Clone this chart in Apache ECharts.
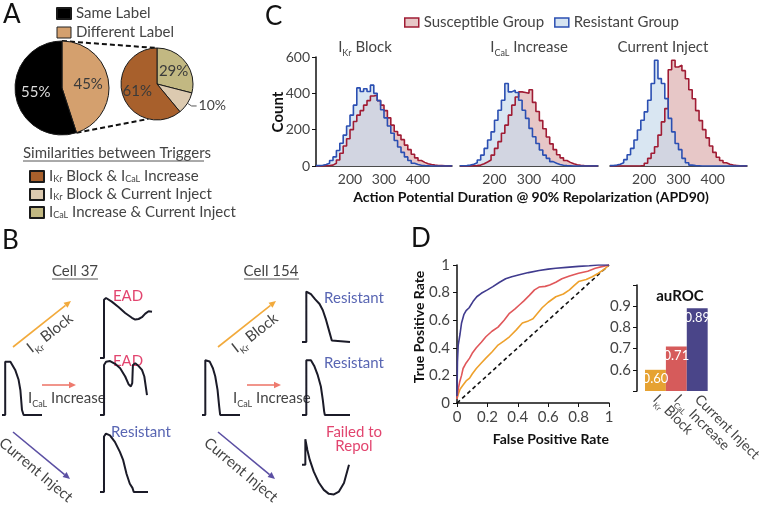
<!DOCTYPE html>
<html>
<head>
<meta charset="utf-8">
<script src="https://cdn.jsdelivr.net/npm/echarts@6/dist/echarts.min.js"></script>
<style>
  html, body {margin: 0; padding: 0; background: #fff;}
  #chart {width: 762px; height: 507px;}
</style>
</head>
<body>
<div id="chart"></div>
<script>
const FONT = 'Lato'
const TXT = '#444'

// A: label agreement pies
const labelNames = ['Different Label', 'Same Label']
const labelShare = [45, 55]
const simNames = ['ICaL Increase & Current Inject', 'IKr Block & Current Inject', 'IKr Block & ICaL Increase']
const simShare = [29, 10, 61]

// C: APD90 histograms (bin starts, width 10 ms)
const apdBins = [100, 110, 120, 130, 140, 150, 160, 170, 180, 190,
  200, 210, 220, 230, 240, 250, 260, 270, 280, 290,
  300, 310, 320, 330, 340, 350, 360, 370, 380, 390,
  400, 410, 420, 430, 440, 450, 460, 470, 480, 490]
const apdEnd = 500
const ikrSus = [0, 0, 1, 2, 5, 15, 33, 70, 110, 150,
  200, 245, 280, 305, 335, 360, 385, 390, 360, 335,
  305, 265, 225, 190, 170, 145, 115, 90, 65, 45,
  30, 20, 12, 8, 5, 3, 2, 1, 0, 0]
const ikrRes = [2, 4, 8, 15, 30, 50, 85, 125, 170, 220,
  280, 335, 430, 410, 425, 410, 445, 400, 360, 310,
  265, 220, 180, 140, 105, 75, 50, 30, 15, 8,
  4, 2, 1, 0, 0, 0, 0, 0, 0, 0]
const icalSus = [0, 0, 0, 1, 2, 5, 12, 22, 33, 60,
  97, 134, 180, 225, 280, 335, 380, 408, 405, 400,
  420, 350, 300, 250, 205, 160, 122, 90, 62, 45,
  30, 20, 12, 7, 4, 2, 1, 0, 0, 0]
const icalRes = [1, 2, 5, 10, 18, 33, 60, 97, 143, 188,
  252, 307, 362, 454, 408, 417, 405, 362, 307, 262,
  207, 161, 124, 88, 60, 42, 24, 15, 8, 4,
  2, 1, 0, 0, 0, 0, 0, 0, 0, 0]
const ciSus = [0, 0, 0, 0, 0, 0, 0, 0, 1, 3,
  15, 42, 70, 106, 170, 243, 316, 530, 582, 545,
  555, 525, 480, 420, 370, 305, 250, 200, 155, 110,
  75, 48, 30, 18, 10, 5, 3, 1, 0, 0]
const ciRes = [2, 5, 10, 18, 35, 62, 97, 143, 198, 252,
  298, 362, 454, 582, 481, 454, 371, 262, 188, 124,
  90, 42, 18, 5, 2, 1, 0, 0, 0, 0,
  0, 0, 0, 0, 0, 0, 0, 0, 0, 0]
const histTitles = ['{n|I}{s|Kr}{n| Block}', '{n|I}{s|CaL}{n| Increase}', '{n|Current Inject}']

// D: ROC curves [FPR, TPR] and auROC
const rocIkr = [[0, 0.03], [0.007, 0.06], [0.02, 0.1], [0.04, 0.13], [0.06, 0.16], [0.083, 0.18], [0.1, 0.21],
  [0.127, 0.25], [0.16, 0.29], [0.19, 0.325], [0.23, 0.37], [0.27, 0.42], [0.31, 0.45], [0.345, 0.48],
  [0.39, 0.53], [0.43, 0.58], [0.47, 0.595], [0.5, 0.61], [0.53, 0.65], [0.56, 0.69], [0.6, 0.73],
  [0.65, 0.77], [0.7, 0.79], [0.74, 0.82], [0.77, 0.85], [0.8, 0.88], [0.85, 0.895], [0.89, 0.915],
  [0.93, 0.94], [0.97, 0.97], [1, 1]]
const rocIcal = [[0, 0.03], [0.008, 0.1], [0.017, 0.15], [0.03, 0.2], [0.04, 0.25], [0.06, 0.29], [0.083, 0.325],
  [0.1, 0.36], [0.127, 0.4], [0.16, 0.44], [0.19, 0.48], [0.23, 0.52], [0.27, 0.55], [0.31, 0.6],
  [0.345, 0.65], [0.38, 0.68], [0.41, 0.71], [0.44, 0.74], [0.476, 0.78], [0.51, 0.82], [0.54, 0.84],
  [0.58, 0.845], [0.61, 0.855], [0.65, 0.875], [0.69, 0.9], [0.74, 0.92], [0.8, 0.94], [0.86, 0.955],
  [0.91, 0.976], [0.96, 0.99], [1, 1]]
const rocCi = [[0, 0.05], [0.003, 0.3], [0.008, 0.42], [0.02, 0.5], [0.03, 0.58], [0.045, 0.64], [0.06, 0.67],
  [0.08, 0.69], [0.105, 0.735], [0.13, 0.77], [0.16, 0.795], [0.2, 0.82], [0.236, 0.843], [0.28, 0.875],
  [0.32, 0.9], [0.36, 0.915], [0.41, 0.93], [0.47, 0.945], [0.54, 0.96], [0.6, 0.97], [0.65, 0.976],
  [0.72, 0.983], [0.8, 0.99], [0.87, 0.995], [0.93, 1], [1, 1]]
const chance = [[0, 0], [1, 1]]
const aurocNames = ['IKr Block', 'ICaL Increase', 'Current Inject']
const aurocValues = [0.60, 0.71, 0.89]

// B: schematic action potentials (normalised time, voltage)
const apCell37 = [[0, 0], [0.08, 0], [0.08, 0.97], [0.125, 1], [0.21, 0.97], [0.33, 0.82], [0.415, 0.64], [0.46, 0.45], [0.5, 0.09], [0.54, 0], [1, 0]]
const apCell37Ikr = [[0, 0], [0.077, 0], [0.077, 0.97], [0.116, 1], [0.226, 0.94], [0.355, 0.85], [0.484, 0.75], [0.613, 0.67], [0.677, 0.64], [0.742, 0.65], [0.806, 0.68], [0.871, 0.74], [0.935, 0.78], [1, 0.77]]
const apCell37Ical = [[0, 0], [0.086, 0], [0.086, 0.91], [0.129, 0.97], [0.214, 0.98], [0.321, 0.93], [0.429, 0.85], [0.536, 0.7], [0.607, 0.56], [0.657, 0.52], [0.686, 0.58], [0.7, 0.91], [0.75, 0.94], [0.821, 0.89], [0.893, 0.82], [0.943, 0.7], [1, 0.36]]
const apCell37Ci = [[0, 0], [0.083, 0], [0.083, 0.94], [0.124, 0.99], [0.207, 0.96], [0.31, 0.85], [0.414, 0.68], [0.483, 0.54], [0.552, 0.31], [0.621, 0.14], [0.676, 0.07], [0.703, 0], [1, 0]]
const apCell154 = [[0, 0], [0.087, 0], [0.087, 0.96], [0.13, 0.99], [0.2, 0.94], [0.287, 0.82], [0.348, 0.68], [0.409, 0.44], [0.452, 0.15], [0.478, 0], [1, 0]]
const apCell154Ikr = [[0, 0], [0.09, 0], [0.09, 0.97], [0.131, 1], [0.186, 0.92], [0.276, 0.82], [0.366, 0.73], [0.434, 0.61], [0.503, 0.42], [0.572, 0.19], [0.621, 0.03], [0.641, 0], [1, 0]]
const apCell154Ical = [[0, 0], [0.09, 0], [0.09, 0.96], [0.131, 0.99], [0.186, 0.96], [0.255, 0.86], [0.324, 0.71], [0.393, 0.5], [0.434, 0.26], [0.462, 0.06], [0.476, 0], [1, 0]]
const apCell154Ci = [[0, 0.53], [0.071, 0.53], [0.071, 0.98], [0.093, 1], [0.114, 0.79], [0.164, 0.62], [0.25, 0.41], [0.357, 0.22], [0.464, 0.09], [0.571, 0.02], [0.679, 0.01], [0.786, 0.06], [0.893, 0.21], [1, 0.53]]

const RED_LINE = '#a01c34', RED_FILL = '#e7c7c7'
const BLUE_LINE = '#2b4fb2', BLUE_FILL = 'rgba(201,219,236,0.7)'
const ORANGE = '#eea12c', SALMON = '#e0575a', PURPLE = '#403b8e'
const subRich = {
  n: {fontFamily: FONT, fontSize: 15, color: TXT, lineHeight: 22},
  s: {fontFamily: FONT, fontSize: 9, color: TXT, lineHeight: 10, verticalAlign: 'bottom'}
}
const richName = name => name
    .replace(/I(Kr|CaL)/g, (m, sub) => '\u0000' + sub + '\u0001')
    .split(/(\u0000[^\u0001]*\u0001)/)
    .filter(p => p.length)
    .map(p => p[0] === '\u0000' ? '{n|I}{s|' + p.slice(1, -1) + '}' : '{n|' + p + '}')
    .join('')

// grids: 0-2 histograms, 3 ROC, 4 auROC, 5-12 panel B traces
const histGrids = [[316, 136], [460, 138], [610, 137]]
const histTitleX = [365, 529, 663]
const traceBoxes = [
  [2, 360, 40, 55], [100, 298, 52, 60], [100, 360, 47, 55], [100, 433, 48, 59],
  [202, 358, 38, 57], [302, 290, 48, 52], [302, 358, 48, 57], [302, 438, 47, 57]
]
const traces = [apCell37, apCell37Ikr, apCell37Ical, apCell37Ci, apCell154, apCell154Ikr, apCell154Ical, apCell154Ci]

const grids = [
  ...histGrids.map(([l, w]) => ({left: l, top: 57, width: w, height: 109})),
  {left: 457, top: 265, width: 152, height: 138},
  {left: 645, top: 285, width: 76, height: 106},
  ...traceBoxes.map(([l, t, w, h]) => ({left: l, top: t, width: w, height: h}))
]

const axisLine = {lineStyle: {color: '#111', width: 1.5}}
const tickLabel = {color: TXT, fontSize: 14, fontFamily: FONT}

const xAxes = [
  ...histGrids.map((g, i) => ({
    type: 'value', gridIndex: i, min: apdBins[0], max: apdEnd, interval: 100,
    axisLine: {show: true, ...axisLine}, axisTick: {show: false}, splitLine: {show: false},
    axisLabel: {...tickLabel, margin: 6, formatter: v => (v === apdBins[0] || v === apdEnd) ? '' : v}
  })),
  {
    type: 'value', gridIndex: 3, min: 0, max: 1, interval: 0.2,
    axisLine: {show: true, ...axisLine}, axisTick: {show: true, length: 4, lineStyle: {color: '#111'}},
    splitLine: {show: false}, axisLabel: {...tickLabel, fontSize: 15, margin: 7}
  },
  {
    type: 'category', gridIndex: 4, data: aurocNames,
    axisLine: {show: false}, axisTick: {show: false},
    axisLabel: {rotate: -45, margin: 6, interval: 0, hideOverlap: false, formatter: richName, rich: {
      n: {fontFamily: FONT, fontSize: 14, color: TXT, lineHeight: 20},
      s: {fontFamily: FONT, fontSize: 8, color: TXT, lineHeight: 8, verticalAlign: 'bottom'}
    }}
  },
  ...traceBoxes.map((b, i) => ({type: 'value', gridIndex: 5 + i, min: 0, max: 1, show: false}))
]

const yAxes = [
  {
    type: 'value', gridIndex: 0, min: 0, max: 600, interval: 200,
    axisLine: {show: true, ...axisLine}, axisTick: {show: true, length: 4, lineStyle: {color: '#111'}},
    splitLine: {show: false}, axisLabel: {...tickLabel, margin: 6}
  },
  {type: 'value', gridIndex: 1, min: 0, max: 600, show: false},
  {type: 'value', gridIndex: 2, min: 0, max: 600, show: false},
  {
    type: 'value', gridIndex: 3, min: 0, max: 1, interval: 0.2,
    axisLine: {show: true, ...axisLine}, axisTick: {show: true, length: 4, lineStyle: {color: '#111'}},
    splitLine: {show: false}, axisLabel: {...tickLabel, fontSize: 15, margin: 7}
  },
  {
    type: 'value', gridIndex: 4, min: 0.5, max: 1, interval: 0.1, offset: 8,
    axisLine: {show: true, ...axisLine}, axisTick: {show: true, length: 4, lineStyle: {color: '#111'}},
    splitLine: {show: false},
    axisLabel: {...tickLabel, fontSize: 15, margin: 6, formatter: v => (v < 0.55 || v > 0.95) ? '' : v.toFixed(1)}
  },
  ...traceBoxes.map((b, i) => ({type: 'value', gridIndex: 5 + i, min: 0, max: 1, show: false}))
]

const histSeries = (name, counts, idx, line, fill) => ({
  type: 'line', name, xAxisIndex: idx, yAxisIndex: idx,
  step: 'end', symbol: 'none', silent: true,
  data: apdBins.map((b, i) => [b, counts[i]]).concat([[apdEnd, 0]]),
  lineStyle: {color: line, width: 1.6},
  itemStyle: {color: line},
  areaStyle: {color: fill, opacity: 1}
})
const histPairs = [[ikrSus, ikrRes], [icalSus, icalRes], [ciSus, ciRes]]

const series = []
histPairs.forEach(([sus, res], i) => {
  series.push(histSeries('Susceptible Group', sus, i, RED_LINE, RED_FILL))
  series.push(histSeries('Resistant Group', res, i, BLUE_LINE, BLUE_FILL))
})
const rocLine = (data, color, extra) => ({
  type: 'line', xAxisIndex: 3, yAxisIndex: 3, data, symbol: 'none', silent: true,
  lineStyle: {color, width: 1.6, ...extra}
})
series.push(rocLine(chance, '#111', {type: [4, 3], width: 1.6}))
series.push(rocLine(rocIkr, ORANGE))
series.push(rocLine(rocIcal, SALMON))
series.push(rocLine(rocCi, PURPLE))
series.push({
  type: 'bar', xAxisIndex: 4, yAxisIndex: 4, barCategoryGap: 0, silent: true,
  data: aurocValues.map((v, i) => ({value: v, itemStyle: {color: ['#e6a232', '#d65b5b', '#4a4589'][i]}})),
  label: {show: true, position: 'insideTop', distance: 3, color: '#fff', fontFamily: FONT, fontSize: 13,
    formatter: p => p.value.toFixed(2)}
})
traces.forEach((tr, i) => {
  series.push({
    type: 'line', xAxisIndex: 5 + i, yAxisIndex: 5 + i, data: tr, symbol: 'none', silent: true,
    clip: false, lineStyle: {color: '#1b1b28', width: 2}
  })
})

const bigPie = {c: [62, 88], r: 47}
const smallPie = {c: [157, 84], r: 36}
series.push({
  type: 'pie', center: bigPie.c, radius: bigPie.r, startAngle: 90, silent: true,
  itemStyle: {borderColor: '#1a1a1a', borderWidth: 1},
  label: {show: true, position: 'inside', fontFamily: FONT, fontSize: 15, formatter: '{c}%'},
  data: labelNames.map((n, i) => ({
    name: n, value: labelShare[i],
    itemStyle: {color: ['#d4a06e', '#000'][i]},
    label: {color: ['#3a3a3a', '#ddd'][i]}
  }))
})
series.push({
  type: 'pie', center: smallPie.c, radius: smallPie.r, startAngle: 90, silent: true,
  itemStyle: {borderColor: '#1a1a1a', borderWidth: 1},
  label: {show: true, position: 'inside', fontFamily: FONT, fontSize: 15, color: '#3a3a3a', formatter: '{c}%'},
  labelLine: {length: 5, length2: 5, lineStyle: {color: '#555', width: 1}},
  data: simNames.map((n, i) => ({
    name: n, value: simShare[i],
    itemStyle: {color: ['#c2b882', '#dccab0', '#a8602c'][i]},
    label: i === 1 ? {position: 'outside', color: TXT, fontSize: 14, distanceToLabelLine: 2} : {}
  }))
})

// graphic helpers
const txt = (x, y, text, style = {}, rotation = 0) => ({
  type: 'text', x, y, rotation, silent: true,
  style: {text, fontFamily: FONT, fontSize: 15, fill: TXT, align: 'left', verticalAlign: 'middle', ...style}
})
const seg = (x1, y1, x2, y2, stroke, lineWidth = 1, lineDash) => ({
  type: 'line', silent: true, shape: {x1, y1, x2, y2}, style: {stroke, lineWidth, lineDash}
})
const arrow = (x1, y1, x2, y2, color) => {
  const a = Math.atan2(y2 - y1, x2 - x1), L = 7, W = 3.2
  const bx = x2 - L * Math.cos(a), by = y2 - L * Math.sin(a)
  return [
    seg(x1, y1, bx, by, color, 1.6),
    {type: 'polygon', silent: true, shape: {points: [[x2, y2], [bx + W * Math.sin(a), by - W * Math.cos(a)], [bx - W * Math.sin(a), by + W * Math.cos(a)]]}, style: {fill: color}}
  ]
}
const pt = (p, deg) => [p.c[0] + p.r * Math.cos(deg * Math.PI / 180), p.c[1] - p.r * Math.sin(deg * Math.PI / 180)]
const tanEnd = 90 - 360 * labelShare[0] / 100
const [bt, bb, st, sb] = [pt(bigPie, 90), pt(bigPie, tanEnd), pt(smallPie, 90), pt(smallPie, -104)]

const graphic = [
  txt(3, 15, 'A', {fontSize: 26, fill: '#111'}),
  txt(2, 241, 'B', {fontSize: 26, fill: '#111'}),
  txt(265, 17, 'C', {fontSize: 26, fill: '#111'}),
  txt(411, 239, 'D', {fontSize: 26, fill: '#111'}),
  seg(bt[0], bt[1], st[0], st[1], '#111', 2, [5, 3]),
  seg(bb[0], bb[1], sb[0], sb[1], '#111', 2, [5, 3]),
  txt(23, 153, 'Similarities between Triggers', {fontSize: 15}),
  seg(23, 161, 204, 161, '#555', 1),
  // panel B
  txt(75, 271, 'Cell 37', {align: 'center'}),
  seg(52, 279, 98, 279, '#555', 1),
  txt(271, 271, 'Cell 154', {align: 'center'}),
  seg(244, 279, 299, 279, '#555', 1),
  ...[0, 205].flatMap(dx => [
    ...arrow(13 + dx, 347, 71 + dx, 301, '#f2aa3c'),
    ...arrow(42 + dx, 385, 76 + dx, 385, '#ee7a6e'),
    ...arrow(13 + dx, 432, 70 + dx, 479, '#5b4fa3'),
    txt(50 + dx, 333, '{n|I}{s|Kr}{n| Block}', {align: 'center', rich: subRich}, 38 * Math.PI / 180),
    txt(28 + dx, 398, '{n|I}{s|CaL}{n| Increase}', {rich: subRich}),
    txt(36 + dx, 470, 'Current Inject', {align: 'center'}, -40 * Math.PI / 180)
  ]),
  txt(128, 296, 'EAD', {align: 'center', fill: '#e2456f'}),
  txt(128, 361, 'EAD', {align: 'center', fill: '#e2456f'}),
  txt(141, 432, 'Resistant', {align: 'center', fill: '#5966b3'}),
  txt(354, 298, 'Resistant', {align: 'center', fill: '#5966b3'}),
  txt(354, 363, 'Resistant', {align: 'center', fill: '#5966b3'}),
  txt(354, 432, 'Failed to', {align: 'center', fill: '#e2456f'}),
  txt(354, 446, 'Repol', {align: 'center', fill: '#e2456f'}),
  // panel C
  ...histTitles.map((t, i) => txt(histTitleX[i], 47, t, {align: 'center', rich: subRich})),
  txt(278, 112, 'Count', {align: 'center', fontWeight: 'bold', fontSize: 15, fill: '#111'}, Math.PI / 2),
  txt(531, 197, 'Action Potential Duration @ 90% Repolarization (APD90)', {align: 'center', fontWeight: 'bold', fontSize: 14, fill: '#111'}),
  // panel D
  txt(419, 327, 'True Positive Rate', {align: 'center', fontWeight: 'bold', fontSize: 14, fill: '#111'}, Math.PI / 2),
  txt(609, 439, 'False Positive Rate', {align: 'right', fontWeight: 'bold', fontSize: 14, fill: '#111'}),
  txt(680, 296, 'auROC', {align: 'center', fontWeight: 'bold', fontSize: 15, fill: '#111'})
]

const option = {
  animation: false,
  textStyle: {fontFamily: FONT},
  grid: grids,
  xAxis: xAxes,
  yAxis: yAxes,
  legend: [
    {
      left: 51, top: 1, orient: 'vertical', itemWidth: 14, itemHeight: 11, itemGap: 4, selectedMode: false,
      icon: 'rect', textStyle: {fontFamily: FONT, fontSize: 15, color: TXT},
      data: [
        {name: 'Same Label', itemStyle: {color: '#000'}},
        {name: 'Different Label', itemStyle: {color: '#d4a06e', borderColor: '#222', borderWidth: 1}}
      ]
    },
    {
      left: 24, top: 164, orient: 'vertical', itemWidth: 14, itemHeight: 11, itemGap: 3, selectedMode: false,
      icon: 'rect', formatter: richName,
      textStyle: {fontFamily: FONT, fontSize: 15, color: TXT, rich: {
        n: {fontFamily: FONT, fontSize: 15, color: TXT, lineHeight: 14},
        s: {fontFamily: FONT, fontSize: 9, color: TXT, lineHeight: 6, verticalAlign: 'bottom'}
      }},
      data: [simNames[2], simNames[1], simNames[0]]
    },
    {
      left: 399, top: 10, itemWidth: 14, itemHeight: 9, itemGap: 10, selectedMode: false, icon: 'rect',
      textStyle: {fontFamily: FONT, fontSize: 15, color: TXT},
      data: [
        {name: 'Susceptible Group', itemStyle: {color: RED_FILL, borderColor: RED_LINE, borderWidth: 1.5}},
        {name: 'Resistant Group', itemStyle: {color: '#d6e4f1', borderColor: BLUE_LINE, borderWidth: 1.5}}
      ]
    }
  ],
  series,
  graphic
}

const chart = echarts.init(document.getElementById('chart'))
chart.setOption(option)
</script>
</body>
</html>
